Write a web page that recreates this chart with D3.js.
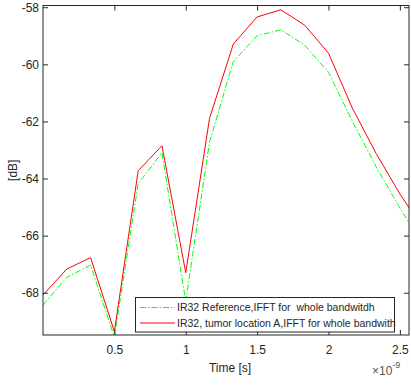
<!DOCTYPE html>
<html>
<head>
<meta charset="utf-8">
<script src="https://cdn.jsdelivr.net/npm/d3@7"></script>
<style>
  body { margin: 0; background: #fff; }
  text { font-family: "Liberation Sans", Arial, sans-serif; fill: #262626; }
</style>
</head>
<body>
<svg id="chart" width="411" height="385"></svg>
<script>
// time in ns (axis shows x 10^-9 s)
const time = [0, 1/6, 2/6, 3/6, 4/6, 5/6, 1, 7/6, 8/6, 9/6, 10/6, 11/6, 2, 13/6, 14/6, 15/6, 16/6];
const reference = [-68.43, -67.46, -67.03, -69.55, -64.18, -63.1, -68.3, -62.72, -59.9, -59.0, -58.79, -59.33, -60.28, -61.99, -63.58, -65.03, -66.36];
const tumorA = [-68.08, -67.17, -66.77, -69.36, -63.73, -62.85, -67.3, -61.89, -59.29, -58.34, -58.09, -58.63, -59.61, -61.53, -63.12, -64.54, -65.78];
const xTicks = [0.5, 1, 1.5, 2, 2.5];
const yTicks = [-68, -66, -64, -62, -60, -58];
const legendLabels = ["IR32 Reference,IFFT for  whole bandwitdh", "IR32, tumor location A,IFFT for whole bandwith"];

const svg = d3.select("#chart");
const mLeft = 43, mRight = 409, mTop = 5.5, mBottom = 335;

const x = d3.scaleLinear().domain([0, 2.564]).range([mLeft, mRight]);
const y = d3.scaleLinear().domain([-69.48, -57.94]).range([mBottom, mTop]);

svg.append("clipPath").attr("id", "clip")
  .append("rect")
  .attr("x", mLeft).attr("y", mTop)
  .attr("width", mRight - mLeft).attr("height", mBottom - mTop);

// --- lines
const line = d3.line().x((d, i) => x(time[i])).y(d => y(d));

svg.append("path")
  .datum(reference)
  .attr("clip-path", "url(#clip)")
  .attr("fill", "none")
  .attr("stroke", "#00ff00")
  .attr("stroke-width", 1)
  .attr("stroke-dasharray", "6,2,1.5,2")
  .attr("d", line);

svg.append("path")
  .datum(tumorA)
  .attr("clip-path", "url(#clip)")
  .attr("fill", "none")
  .attr("stroke", "#ff0000")
  .attr("stroke-width", 1)
  .attr("d", line);

// --- axes box with inside ticks on all sides
const axisColor = "#262626";
const tl = 5;

const xBottom = svg.append("g").attr("transform", `translate(0,${mBottom})`)
  .call(d3.axisBottom(x).tickValues(xTicks).tickSize(-tl).tickPadding(10).tickFormat(d3.format("")));
const xTop = svg.append("g").attr("transform", `translate(0,${mTop})`)
  .call(d3.axisTop(x).tickValues(xTicks).tickSize(-tl).tickFormat(""));
const yLeft = svg.append("g").attr("transform", `translate(${mLeft},0)`)
  .call(d3.axisLeft(y).tickValues(yTicks).tickSize(-tl).tickPadding(4).tickFormat(d3.format("")));
const yRight = svg.append("g").attr("transform", `translate(${mRight},0)`)
  .call(d3.axisRight(y).tickValues(yTicks).tickSize(-tl).tickFormat(""));

[xBottom, xTop, yLeft, yRight].forEach(g => {
  g.select(".domain").remove();
  g.selectAll("line").attr("stroke", axisColor);
  g.selectAll("text").style("font-size", "12px").attr("fill", axisColor)
    .style("font-family", "'Liberation Sans', Arial, sans-serif");
});
yLeft.selectAll("text").text(d => String(d));

svg.append("rect")
  .attr("x", mLeft).attr("y", mTop)
  .attr("width", mRight - mLeft).attr("height", mBottom - mTop)
  .attr("fill", "none").attr("stroke", axisColor).attr("stroke-width", 1);

// --- labels
svg.append("text")
  .attr("x", (mLeft + mRight) / 2 + 4).attr("y", 372)
  .attr("text-anchor", "middle")
  .style("font-size", "12px")
  .text("Time [s]");

svg.append("text")
  .attr("transform", `translate(17,${(mTop + mBottom) / 2}) rotate(-90)`)
  .attr("text-anchor", "middle")
  .style("font-size", "12px")
  .text("[dB]");

const expo = svg.append("text")
  .attr("x", 372).attr("y", 375)
  .style("font-size", "12px")
  .style("fill", "#555");
expo.append("tspan").text("×10");
expo.append("tspan").attr("dy", -7).style("font-size", "9px").text("-9");

// --- legend
const lg = svg.append("g");
lg.append("rect")
  .attr("x", 135.5).attr("y", 297.5)
  .attr("width", 259).attr("height", 34.5)
  .attr("fill", "#fff").attr("stroke", axisColor).attr("stroke-width", 1);

const legendStyles = [
  { color: "#00ff00", dash: "6,2,1.5,2" },
  { color: "#ff0000", dash: null }
];
legendLabels.forEach((label, i) => {
  const ly = 307.5 + i * 15.5;
  lg.append("line")
    .attr("x1", 140).attr("x2", 175)
    .attr("y1", ly).attr("y2", ly)
    .attr("stroke", legendStyles[i].color)
    .attr("stroke-dasharray", legendStyles[i].dash);
  lg.append("text")
    .attr("x", 177).attr("y", ly + 3.8)
    .style("font-size", "10.5px")
    .style("white-space", "pre")
    .attr("xml:space", "preserve")
    .text(label);
});
</script>
</body>
</html>
